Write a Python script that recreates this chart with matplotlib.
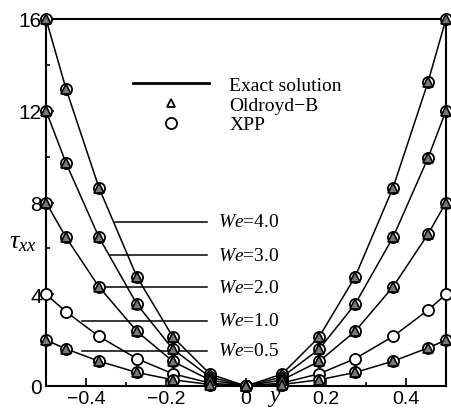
import matplotlib
matplotlib.use("Agg")
import matplotlib.pyplot as plt
from matplotlib.lines import Line2D
from matplotlib.ticker import MultipleLocator

plt.rcParams['mathtext.fontset'] = 'custom'
plt.rcParams['mathtext.rm'] = 'Liberation Serif'
plt.rcParams['mathtext.it'] = 'Liberation Serif:italic'

# ---- data ----
y_pts = [-0.5, -0.45, -0.3675, -0.2725, -0.1825, -0.09, 0.0,
         0.09, 0.1825, 0.2725, 0.3675, 0.455, 0.5]
tau_we40 = [16, 12.96, 8.64, 4.75, 2.13, 0.52, 0, 0.52, 2.13, 4.75, 8.64, 13.25, 16]
tau_we30 = [12, 9.72, 6.48, 3.56, 1.60, 0.39, 0, 0.39, 1.60, 3.56, 6.48, 9.94, 12]
tau_we20 = [8, 6.48, 4.32, 2.38, 1.07, 0.26, 0, 0.26, 1.07, 2.38, 4.32, 6.62, 8]
tau_we10 = [4, 3.24, 2.16, 1.19, 0.53, 0.13, 0, 0.13, 0.53, 1.19, 2.16, 3.31, 4]
tau_we05 = [2, 1.62, 1.08, 0.59, 0.27, 0.065, 0, 0.065, 0.27, 0.59, 1.08, 1.66, 2]
series = [tau_we40, tau_we30, tau_we20, tau_we10, tau_we05]
we_labels = ['4.0', '3.0', '2.0', '1.0', '0.5']
has_oldroyd = [True, True, True, False, True]

# annotation leader lines (layout)
lab_tau = [7.15, 5.7, 4.3, 2.85, 1.53]
lab_start = [-0.3275, -0.34, -0.37, -0.41, -0.41]
lab_end = -0.0975
lab_text_x = -0.07

xticks = [-0.4, -0.2, 0, 0.2, 0.4]
xticklabels = ['\u22120.4', '\u22120.2', '0', '0.2', '0.4']
yticks = [0, 4, 8, 12, 16]

fig = plt.figure(figsize=(4.52, 4.10), dpi=100)
ax = fig.add_axes([46/452, 23/410, 400/452, 367/410])

for vals, old in zip(series, has_oldroyd):
    ax.plot(y_pts, vals, color='black', lw=1.1, zorder=2)
    ax.plot(y_pts, vals, ls='none', marker='o', ms=8, mfc='white', mec='black',
            mew=1.3, zorder=3, clip_on=False)
    if old:
        ax.plot(y_pts, vals, ls='none', marker='^', ms=6.5, mfc='#777777', mec='black',
                mew=1.2, zorder=4, clip_on=False)

for t, x0, lab in zip(lab_tau, lab_start, we_labels):
    ax.plot([x0, lab_end], [t, t], color='black', lw=1.1, zorder=2)
    ax.text(lab_text_x, t, r'$\mathit{We}$=' + lab, fontsize=14,
            family='Liberation Serif', va='center', ha='left')

ax.set_xlim(-0.5, 0.5)
ax.set_ylim(0, 16)
ax.set_xticks(xticks)
ax.set_xticklabels(xticklabels)
ax.set_yticks(yticks)
ax.xaxis.set_minor_locator(MultipleLocator(0.1))
ax.yaxis.set_minor_locator(MultipleLocator(2))
ax.tick_params(which='both', direction='in', top=False, right=False,
               pad=3, width=1.2)
ax.tick_params(axis='x', labelsize=14)
ax.tick_params(axis='y', labelsize=15)
ax.tick_params(which='major', length=6)
ax.tick_params(which='minor', length=3)
for lbl in ax.get_xticklabels() + ax.get_yticklabels():
    lbl.set_family('Liberation Sans')
for sp in ax.spines.values():
    sp.set_linewidth(1.5)

ax.text(-0.058, 0.398, r'$\tau_{xx}$', transform=ax.transAxes, fontsize=19,
        ha='center', va='center')
ax.text(0.5725, -0.028, r'$y$', transform=ax.transAxes, fontsize=17,
        ha='center', va='center', clip_on=False)

handles = [Line2D([], [], color='black', lw=2.0),
           Line2D([], [], ls='none', marker='^', ms=6, mfc='none', mec='black', mew=1.3),
           Line2D([], [], ls='none', marker='o', ms=8, mfc='none', mec='black', mew=1.3)]
leg = ax.legend(handles, ['Exact solution', 'Oldroyd\u2212B', 'XPP'],
                loc='upper left', bbox_to_anchor=(0.2175, 0.843), frameon=False,
                borderpad=0, borderaxespad=0, handlelength=3.9, handletextpad=1.05,
                labelspacing=0.1, prop={'family': 'Liberation Serif', 'size': 14})

fig.savefig('out.png', dpi=100)
